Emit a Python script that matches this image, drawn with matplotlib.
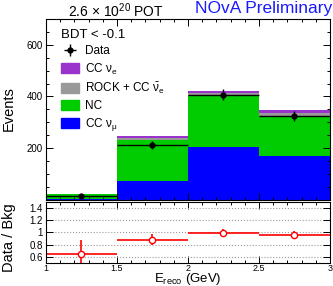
import numpy as np
import matplotlib
matplotlib.use("Agg")
import matplotlib.pyplot as plt
from matplotlib.patches import Patch
from matplotlib.ticker import MultipleLocator

plt.rcParams["font.family"] = ["Liberation Sans", "DejaVu Sans"]
plt.rcParams["mathtext.fontset"] = "custom"
plt.rcParams["mathtext.rm"] = "Liberation Sans"
plt.rcParams["mathtext.it"] = "Liberation Sans:italic"

# ── Data ─────────────────────────────────────────────────────────────────────
bin_edges = [1.0, 1.5, 2.0, 2.5, 3.0]
cc_numu   = [4, 72, 204, 168]
nc        = [17, 159, 203, 157]
rock      = [0.5, 10, 7, 12]
cc_nue    = [0.5, 7, 9, 11]
data      = [14, 213, 407, 325]
ratio_err = [0.22, 0.085, 0.065, 0.06]

colors = {"numu": "#0000ff", "nc": "#00cc00", "rock": "#999999", "nue": "#9933cc"}

edges   = np.array(bin_edges)
centers = 0.5 * (edges[:-1] + edges[1:])
widths  = np.diff(edges)
bkg     = np.array(cc_numu) + np.array(nc) + np.array(rock)
ratio   = np.array(data) / bkg

fig = plt.figure(figsize=(3.33, 2.86), dpi=100)
ax  = fig.add_axes([0.138, 0.301, 0.853, 0.633])
rax = fig.add_axes([0.138, 0.08, 0.853, 0.215])

# ── Stacked prediction ───────────────────────────────────────────────────────
bottom = np.zeros(len(centers))
for key, vals in [("numu", cc_numu), ("nc", nc), ("rock", rock), ("nue", cc_nue)]:
    ax.bar(edges[:-1], vals, width=widths, bottom=bottom, align="edge",
           color=colors[key], linewidth=0)
    bottom += np.array(vals)

data_h = ax.errorbar(centers, data, xerr=widths / 2, yerr=np.sqrt(data),
                     fmt="o", color="black", ms=3.5, lw=1, capsize=0)

ax.set_xlim(1, 3)
ax.set_ylim(0, 700)
ax.set_yticks([200, 400, 600])
ax.yaxis.set_minor_locator(MultipleLocator(50))
ax.xaxis.set_major_locator(MultipleLocator(0.5))
ax.xaxis.set_minor_locator(MultipleLocator(0.1))
ax.set_xticklabels([])

handles = [data_h,
           Patch(color=colors["nue"]),
           Patch(color=colors["rock"]),
           Patch(color=colors["nc"]),
           Patch(color=colors["numu"])]
labels = ["Data",
          "CC ν$_\\mathrm{e}$",
          "ROCK + CC $\\bar{\\mathrm{ν}}_\\mathrm{e}$",
          "NC",
          "CC ν$_\\mathrm{μ}$"]
leg = ax.legend(handles, labels, title="BDT < -0.1", alignment="left",
                loc="upper left", bbox_to_anchor=(61 / 333, 1 - 29 / 286),
                bbox_transform=fig.transFigure, frameon=False, fontsize=8.5,
                title_fontsize=9.5, handlelength=1.55, handleheight=0.95,
                handletextpad=0.45, labelspacing=0.35, borderpad=0,
                borderaxespad=0)

# ── Ratio panel ──────────────────────────────────────────────────────────────
rax.errorbar(centers, ratio, xerr=widths / 2, yerr=ratio_err, fmt="o",
             color="red", mfc="white", mec="red", ms=4.5, mew=1, lw=1.2,
             capsize=0)
rax.set_xlim(1, 3)
rax.set_ylim(0.5, 1.5)
rax.set_yticks([0.6, 0.8, 1.0, 1.2, 1.4])
rax.set_yticklabels(["0.6", "0.8", "1", "1.2", "1.4"])
rax.xaxis.set_minor_locator(MultipleLocator(0.1))
rax.set_xticks([1, 1.5, 2, 2.5, 3])
rax.set_xticklabels(["1", "1.5", "2", "2.5", "3"])
rax.grid(axis="y", color="#999999", ls=":", lw=0.8)

for a in (ax, rax):
    a.tick_params(which="both", direction="in", top=True, right=True,
                  labelsize=7, width=0.7, pad=2)
    a.tick_params(which="major", length=5)
    a.tick_params(which="minor", length=2.5)
    for s in a.spines.values():
        s.set_linewidth(0.8)
rax.tick_params(axis="x", pad=0.3, labelsize=6.5)

# ── Text ─────────────────────────────────────────────────────────────────────
fig.text(0.027, 0.62, "Events", rotation=90, ha="center", va="center",
         fontsize=10.5)
fig.text(0.027, 0.17, "Data / Bkg", rotation=90, ha="center", va="center",
         fontsize=10.5)
fig.text(0.563, -0.004, "E$_\\mathrm{reco}$ (GeV)", ha="center", va="bottom",
         fontsize=9.5)
fig.text(0.348, 0.962, "2.6 $\\times$ 10$^{20}$ POT", ha="center",
         va="center", fontsize=10)
fig.text(0.997, 0.97, "NOvA Preliminary", ha="right", va="center",
         fontsize=12.5, color="#1a1aff")

fig.savefig("out.png", dpi=100)
